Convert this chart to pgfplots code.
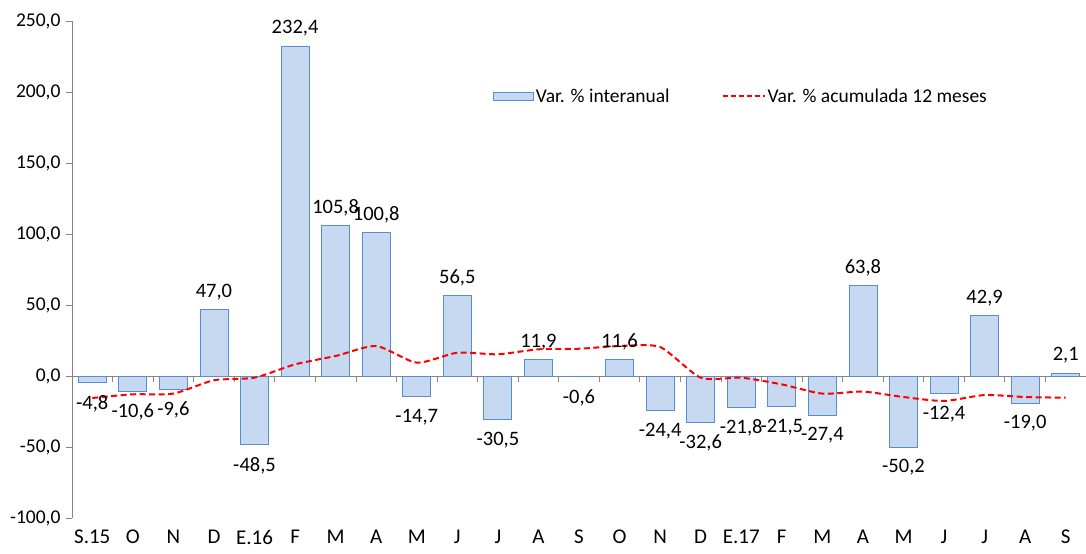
\documentclass[border=0pt]{standalone}
\usepackage{pgfplots}
\pgfplotsset{compat=1.18}
\usepackage{fontspec}
\setmainfont{Carlito}
\usetikzlibrary{calc}
\definecolor{barfill}{HTML}{C6D9F1}
\definecolor{baredge}{HTML}{558ED5}
\definecolor{axgray}{HTML}{868686}
\begin{document}
\begin{tikzpicture}[font=\fontsize{19.5}{23}\selectfont]
\begin{axis}[
  scale only axis, width=1014pt, height=497pt,
  xmin=-0.5, xmax=24.5, ymin=-100, ymax=250,
  axis lines*=left,
  x axis line style={draw=none},
  y axis line style={axgray, line width=0.8pt},
  ytick={-100,-50,...,250},
  y tick style={axgray, line width=0.8pt},
  tick align=outside,
  major tick length=6pt,
  xtick={0,...,24},
  xticklabels={S.15,O,N,D,E.16,F,M,A,M,J,J,A,S,O,N,D,E.17,F,M,A,M,J,J,A,S},
  x tick style={draw=none},
  xticklabel style={yshift=-4pt, inner ysep=2pt, font=\fontsize{21}{24}\selectfont},
  yticklabel style={xshift=-2pt},
  /pgf/number format/use comma,
  /pgf/number format/fixed,
  /pgf/number format/fixed zerofill,
  /pgf/number format/precision=1,
  /pgf/number format/assume math mode=true,
  legend style={at={(0.412,0.872)}, anchor=north west, draw=none, fill=none,
    /tikz/every even column/.append style={column sep=50pt}},
  legend columns=2,
  legend cell align=left,
]
\draw[axgray, line width=0.8pt] (axis cs:-0.5,0) -- (axis cs:24.5,0);
\pgfplotsinvokeforeach{-0.5,0.5,...,24.5}{\draw[axgray, line width=0.8pt] (axis cs:#1,0) -- ++(0pt,-6pt);}
\addplot[ybar, bar width=28pt, fill=barfill, draw=baredge, line width=0.8pt,
  visualization depends on=y \as \rawy,
  nodes near coords, nodes near coords style={black, inner ysep=9pt, font=\fontsize{20.5}{24}\selectfont, yshift={ifthenelse(\rawy<0,-3,0)}},
  legend image code/.code={\draw[fill=barfill, draw=baredge, line width=0.8pt] (0pt,-4pt) rectangle (40pt,4pt);}]
coordinates {
(0,-4.8) (1,-10.6) (2,-9.6) (3,47.0) (4,-48.5) (5,232.4) (6,105.8) (7,100.8)
(8,-14.7) (9,56.5) (10,-30.5) (11,11.9) (12,-0.6) (13,11.6) (14,-24.4) (15,-32.6)
(16,-21.8) (17,-21.5) (18,-27.4) (19,63.8) (20,-50.2) (21,-12.4) (22,42.9) (23,-19.0) (24,2.1)
};
\addlegendentry{Var. \% interanual}
\addplot[red, line width=2pt, dash pattern=on 6pt off 3.5pt, smooth, tension=0.4, mark=none,
  legend image code/.code={\draw[red, line width=2pt, dash pattern=on 5pt off 3pt] (0pt,0pt) -- (42pt,0pt);}]
coordinates {
(0,-15.5) (1,-12.9) (2,-12.4) (3,-3.0) (4,-1.2) (5,8.2) (6,14.1) (7,21.1)
(8,9.4) (9,16.4) (10,15.3) (11,18.8) (12,19.2) (13,21.1) (14,20.4) (15,-1.2)
(16,-1.2) (17,-5.9) (18,-12.4) (19,-11.0) (20,-14.8) (21,-17.6) (22,-13.4) (23,-14.8) (24,-15.3)
};
\addlegendentry{Var. \% acumulada 12 meses}
\end{axis}
\pgfresetboundingbox
\path ($(current axis.south west)+(-72pt,-35pt)$) rectangle ($(current axis.north east)+(0pt,21pt)$);
\end{tikzpicture}
\end{document}
